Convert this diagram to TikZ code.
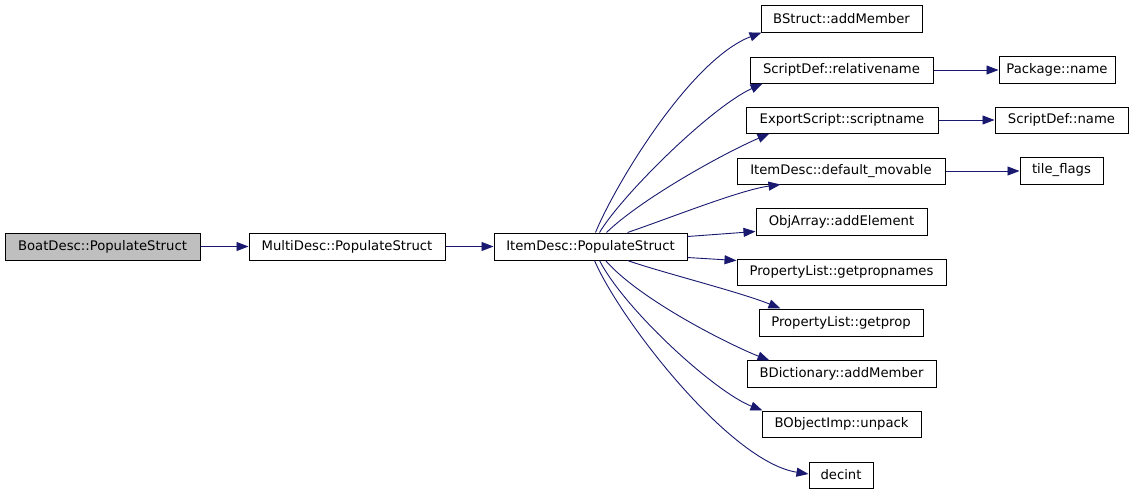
\documentclass[tikz,border=0pt]{standalone}
\usepackage{fontspec}
\setmainfont{DejaVu Sans}
\usetikzlibrary{arrows.meta,calc}
\definecolor{edgeblue}{RGB}{25,25,112}
\definecolor{rootgray}{RGB}{191,191,191}
\begin{document}
\begin{tikzpicture}[x=1pt,y=-1pt,
  fn/.style={draw=black,line width=1pt,fill=white,inner sep=0pt,
    font=\fontsize{13.2}{16}\selectfont,text=black},
  edge/.style={draw=edgeblue,line width=0.9pt,
    -{Triangle[length=12pt,width=9pt]}}]
\useasboundingbox (0,0) rectangle (1133,493);
\fill[white] (0,0) rectangle (1133,493);
% nodes
\node[fn,fill=rootgray,minimum width=195,minimum height=27] (boat) at (102.5,246.5) {BoatDesc::PopulateStruct};
\node[fn,minimum width=196,minimum height=27] (multi) at (347,246.5) {MultiDesc::PopulateStruct};
\node[fn,minimum width=193,minimum height=27] (item) at (590.5,246.5) {ItemDesc::PopulateStruct};
\node[fn,minimum width=161,minimum height=27] (bstruct) at (841.5,18.5) {BStruct::addMember};
\node[fn,minimum width=183,minimum height=26] (relname) at (841.5,70) {ScriptDef::relativename};
\node[fn,minimum width=192,minimum height=26] (expscript) at (842,120) {ExportScript::scriptname};
\node[fn,minimum width=208,minimum height=26] (defmov) at (841,171) {ItemDesc::default\_movable};
\node[fn,minimum width=171,minimum height=27] (objarray) at (841.5,221.5) {ObjArray::addElement};
\node[fn,minimum width=209,minimum height=26] (propnames) at (841.5,272) {PropertyList::getpropnames};
\node[fn,minimum width=164,minimum height=27] (getprop) at (841,322.5) {PropertyList::getprop};
\node[fn,minimum width=189,minimum height=27] (bdict) at (841.5,373.5) {BDictionary::addMember};
\node[fn,minimum width=159,minimum height=26] (bobj) at (841.5,424) {BObjectImp::unpack};
\node[fn,minimum width=64,minimum height=26] (decint) at (841,475) {decint};
\node[fn,minimum width=116,minimum height=27] (pkgname) at (1057,69.5) {Package::name};
\node[fn,minimum width=133,minimum height=26] (sdname) at (1061.5,120) {ScriptDef::name};
\node[fn,minimum width=83,minimum height=27] (tile) at (1061.5,170.5) {tile\_flags};
% straight edges
\draw[edge] (boat.east) -- (multi.west);
\draw[edge] (multi.east) -- (item.west);
\draw[edge] (relname.east) -- (relname.east -| pkgname.west);
\draw[edge] (expscript.east) -- (sdname.west);
\draw[edge] (defmov.east) -- (defmov.east -| tile.west);
\draw[edge] ($(item.north east)+(0,4)$) -- ($(objarray.south west)+(0,-4)$);
\draw[edge] ($(item.south east)+(0,-3)$) -- ($(propnames.north west)+(0,2)$);
% curved edges
\draw[edge] ($(item.north west)+(102,0)$) .. controls (615,185) and (690,60) .. ($(bstruct.south west)+(1,0)$);
\draw[edge] ($(item.north west)+(106,0)$) .. controls (622,195) and (710,108) .. ($(relname.south west)+(13,0)$);
\draw[edge] ($(item.north west)+(113,0)$) .. controls (640,200) and (720,155) .. ($(expscript.south west)+(24,0)$);
\draw[edge] ($(item.north west)+(134,0)$) .. controls (670,218) and (740,190) .. ($(defmov.south west)+(44,0)$);
\draw[edge] ($(item.south west)+(134,0)$) .. controls (660,272) and (740,292) .. ($(getprop.north west)+(22,0)$);
\draw[edge] ($(item.south west)+(112,0)$) .. controls (640,300) and (730,345) .. ($(bdict.north west)+(23,1)$);
\draw[edge] ($(item.south west)+(106,0)$) .. controls (625,310) and (715,392) .. ($(bobj.north west)+(1,0)$);
\draw[edge] ($(item.south west)+(101,0)$) .. controls (620,320) and (730,462) .. ($(decint.west)+(0,-1)$);
\end{tikzpicture}
\end{document}
